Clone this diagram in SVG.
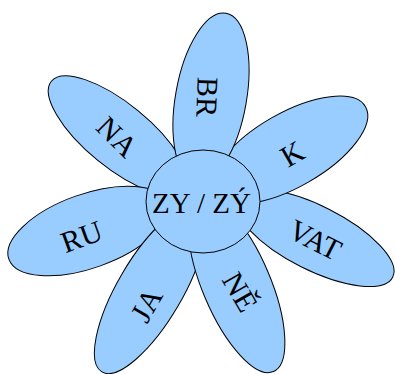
<svg xmlns="http://www.w3.org/2000/svg" width="395" height="374" viewBox="0 0 395 374">
<style>
.petal{fill:#99ccff;stroke:#000;stroke-width:1}
.lbl{font-family:"Liberation Serif","Times New Roman",serif;font-size:30px;fill:#000;text-anchor:middle}
.ctr{font-family:"Liberation Serif","Times New Roman",serif;font-size:29px;fill:#000;text-anchor:middle}
</style>
<rect width="395" height="374" fill="#fff"/>
<g id="petal-NA"><ellipse class="petal" rx="86" ry="32" transform="translate(118,135.6) rotate(39.2)"/><text class="lbl" transform="translate(117,137) rotate(45)" y="10">NA</text></g>
<g id="petal-RU"><ellipse class="petal" rx="84" ry="37" transform="translate(88,231) rotate(-19.6)"/><text class="lbl" transform="translate(81.7,236.7) rotate(-20)" y="10">RU</text></g>
<g id="petal-JA"><ellipse class="petal" rx="95" ry="32.3" transform="translate(150,290) rotate(-59.6)"/><text class="lbl" transform="translate(146.7,305) rotate(-60)" y="10">JA</text></g>
<g id="petal-NE"><ellipse class="petal" rx="94" ry="34" transform="translate(236.6,285) rotate(67)"/><text class="lbl" transform="translate(240,292) rotate(60)" y="10">NĚ</text></g>
<g id="petal-VAT"><ellipse class="petal" rx="87" ry="32" transform="translate(315,238) rotate(26.8)"/><text class="lbl" transform="translate(315,240) rotate(27)" y="10">VAT</text></g>
<g id="petal-K"><ellipse class="petal" rx="87" ry="37" transform="translate(290,150) rotate(-29.8)"/><text class="lbl" transform="translate(292.5,154) rotate(-30)" y="10">K</text></g>
<g id="petal-BR"><ellipse class="petal" rx="86" ry="35.5" transform="translate(211,98) rotate(-80)"/><text class="lbl" transform="translate(207,97) rotate(92)" y="10">BR</text></g>
<g id="center"><ellipse class="petal" cx="203" cy="201.5" rx="57" ry="51.5"/><text class="ctr" x="201.5" y="213">ZY / ZÝ</text></g>
<g id="connectors"/>
</svg>
